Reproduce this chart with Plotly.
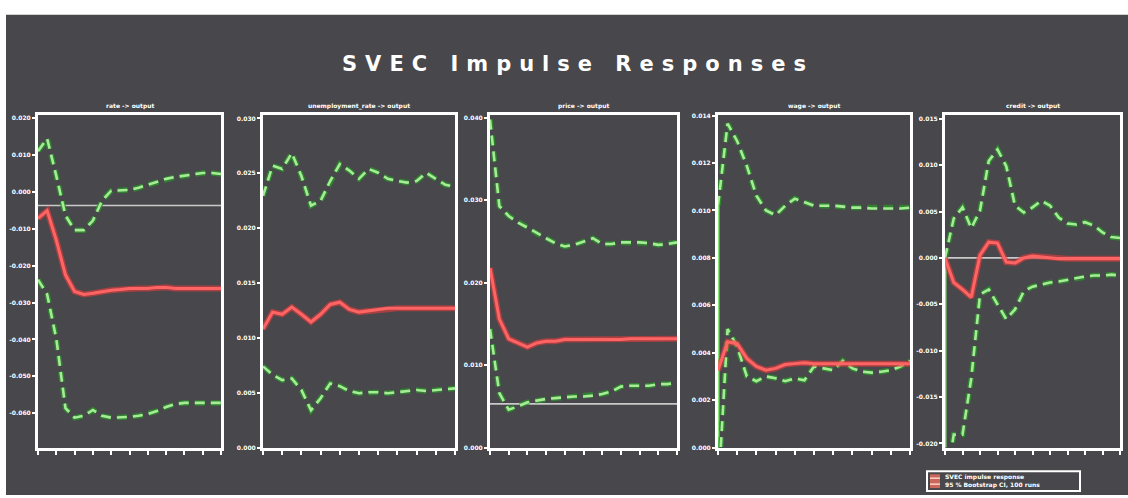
import plotly.graph_objects as go

W, H = 1128, 498
horizon = list(range(21))
x_ticks = list(range(0, 21, 2))

titles = ["rate -> output", "unemployment_rate -> output", "price -> output",
          "wage -> output", "credit -> output"]

# values in tick units (1 unit = one y tick step); label scale per panel below
p1_upper = [1.10, 1.44, 0.43, -0.64, -1.04, -1.04, -0.78, -0.24, 0.03, 0.03, 0.05,
            0.11, 0.19, 0.27, 0.35, 0.40, 0.43, 0.48, 0.51, 0.51, 0.48]
p1_irf = [-0.72, -0.51, -1.31, -2.25, -2.70, -2.78, -2.75, -2.70, -2.67, -2.65, -2.62,
          -2.62, -2.62, -2.59, -2.59, -2.62, -2.62, -2.62, -2.62, -2.62, -2.62]
p1_lower = [-2.38, -2.78, -3.98, -5.86, -6.12, -6.07, -5.91, -6.07, -6.12, -6.12, -6.10,
            -6.07, -6.02, -5.94, -5.83, -5.75, -5.72, -5.72, -5.72, -5.72, -5.72]

p2_upper = [4.59, 5.14, 5.08, 5.37, 4.95, 4.41, 4.50, 4.86, 5.17, 5.05, 4.90,
            5.08, 5.01, 4.90, 4.86, 4.83, 4.86, 5.01, 4.90, 4.79, 4.76]
p2_irf = [2.16, 2.47, 2.43, 2.56, 2.43, 2.29, 2.43, 2.61, 2.65, 2.52, 2.47,
          2.49, 2.52, 2.54, 2.54, 2.54, 2.54, 2.54, 2.54, 2.54, 2.54]
p2_lower = [1.48, 1.33, 1.23, 1.26, 1.05, 0.68, 0.90, 1.17, 1.12, 1.03, 0.99,
            1.01, 1.01, 0.99, 1.01, 1.03, 1.05, 1.03, 1.05, 1.06, 1.08]

p3_upper = [3.98, 2.93, 2.81, 2.73, 2.67, 2.60, 2.54, 2.48, 2.44, 2.46, 2.50,
            2.54, 2.47, 2.47, 2.49, 2.49, 2.49, 2.48, 2.46, 2.47, 2.49]
p3_irf = [2.18, 1.56, 1.32, 1.27, 1.22, 1.27, 1.29, 1.29, 1.31, 1.31, 1.31,
          1.31, 1.31, 1.31, 1.31, 1.32, 1.32, 1.32, 1.32, 1.32, 1.32]
p3_lower = [1.44, 0.66, 0.46, 0.50, 0.55, 0.57, 0.59, 0.60, 0.61, 0.62, 0.62,
            0.63, 0.65, 0.68, 0.74, 0.75, 0.75, 0.75, 0.77, 0.77, 0.79]

p4_upper = [5.10, 6.83, 6.46, 5.94, 5.31, 5.00, 4.90, 5.10, 5.25, 5.17, 5.10,
            5.10, 5.10, 5.08, 5.06, 5.06, 5.04, 5.04, 5.04, 5.04, 5.06]
p4_irf = [1.63, 2.23, 2.19, 1.88, 1.71, 1.63, 1.67, 1.75, 1.77, 1.79, 1.77,
          1.77, 1.77, 1.77, 1.77, 1.77, 1.77, 1.77, 1.77, 1.77, 1.77]
p4_lower = [-1.00, 2.50, 2.13, 1.50, 1.40, 1.50, 1.46, 1.40, 1.46, 1.42, 1.71,
            1.67, 1.63, 1.83, 1.67, 1.60, 1.58, 1.60, 1.63, 1.71, 1.83]

p5_upper = [0.00, 0.85, 1.09, 0.64, 1.02, 2.09, 2.34, 1.98, 1.13, 0.98, 1.09,
            1.23, 1.13, 0.87, 0.74, 0.72, 0.77, 0.70, 0.55, 0.45, 0.43]
p5_irf = [0.00, -0.53, -0.68, -0.85, 0.06, 0.34, 0.32, -0.09, -0.11, 0.00, 0.04,
          0.02, 0.00, -0.02, -0.02, -0.02, -0.02, -0.02, -0.02, -0.02, -0.02]
p5_lower = [-5.00, -3.81, -3.81, -2.60, -0.79, -0.68, -1.00, -1.32, -1.11, -0.72, -0.62,
            -0.57, -0.53, -0.51, -0.47, -0.43, -0.40, -0.38, -0.38, -0.36, -0.38]

uppers = [p1_upper, p2_upper, p3_upper, p4_upper, p5_upper]
irfs = [p1_irf, p2_irf, p3_irf, p4_irf, p5_irf]
lowers = [p1_lower, p2_lower, p3_lower, p4_lower, p5_lower]

y_ranges = [[-6.93, 2.09], [0.0, 6.07], [0.0, 4.04], [0.0, 7.02], [-4.09, 3.09]]
y_tickvals = [list(range(-6, 3)), list(range(0, 7)), list(range(0, 5)),
              list(range(0, 8)), list(range(-4, 4))]
y_label_scale = [0.01, 0.005, 0.01, 0.002, 0.005]
ref_lines = [-0.37, None, 0.53, None, 0.0]
impact_band = [False, False, False, True, True]

legend_labels = ["SVEC impulse response", "95 % Bootstrap CI, 100 runs"]

# layout geometry (pixels)
panel_px = [(38, 221), (263, 455), (490, 677), (718, 910), (945, 1120)]
top_px, bot_px = 113, 450

BG = "#48474b"
RED = "#ff6464"
GREEN = "#a6ec96"
WHITE = "#ffffff"

fig = go.Figure()
layout = {}
for i in range(5):
    xname = "x" if i == 0 else f"x{i+1}"
    yname = "y" if i == 0 else f"y{i+1}"
    if ref_lines[i] is not None:
        fig.add_trace(go.Scatter(x=[horizon[0], horizon[-1]], y=[ref_lines[i], ref_lines[i]],
                                 mode="lines", line=dict(color="#c9c9c9", width=1.6),
                                 xaxis=xname, yaxis=yname, showlegend=False, hoverinfo="skip"))
    if impact_band[i]:
        fig.add_trace(go.Scatter(x=[horizon[0], horizon[0]], y=[uppers[i][0], lowers[i][0]],
                                 mode="lines", line=dict(color="#86e676", width=3),
                                 xaxis=xname, yaxis=yname, showlegend=False, hoverinfo="skip"))
    for series in (uppers[i], lowers[i]):
        fig.add_trace(go.Scatter(x=horizon, y=series, mode="lines",
                                 line=dict(color="rgba(40,150,40,0.75)", width=5.5, dash="10px,6px"),
                                 xaxis=xname, yaxis=yname, showlegend=False, hoverinfo="skip"))
        fig.add_trace(go.Scatter(x=horizon, y=series, mode="lines",
                                 line=dict(color=GREEN, width=2.6, dash="10px,6px"),
                                 xaxis=xname, yaxis=yname, showlegend=False, hoverinfo="skip"))
    fig.add_trace(go.Scatter(x=horizon, y=irfs[i], mode="lines",
                             line=dict(color="rgba(230,60,60,0.6)", width=6),
                             xaxis=xname, yaxis=yname, showlegend=False, hoverinfo="skip"))
    fig.add_trace(go.Scatter(x=horizon, y=irfs[i], mode="lines",
                             line=dict(color=RED, width=3),
                             xaxis=xname, yaxis=yname, showlegend=False, hoverinfo="skip"))

    l, r = panel_px[i]
    xkey = "xaxis" if i == 0 else f"xaxis{i+1}"
    ykey = "yaxis" if i == 0 else f"yaxis{i+1}"
    layout[xkey] = dict(domain=[l / W, r / W], range=[horizon[0], horizon[-1]],
                        anchor=yname, showgrid=False, zeroline=False,
                        showline=True, mirror=True, linecolor=WHITE, linewidth=3,
                        tickvals=x_ticks, ticks="outside", ticklen=4, tickwidth=2,
                        tickcolor=WHITE, showticklabels=False)
    layout[ykey] = dict(domain=[1 - bot_px / H, 1 - top_px / H], range=y_ranges[i],
                        anchor=xname, showgrid=False, zeroline=False,
                        showline=True, mirror=True, linecolor=WHITE, linewidth=3,
                        tickvals=y_tickvals[i],
                        ticktext=[f"{v * y_label_scale[i]:.3f}" for v in y_tickvals[i]],
                        ticks="outside", ticklen=3, tickwidth=1.5, tickcolor=WHITE,
                        tickfont=dict(family="DejaVu Sans", size=6, color=WHITE, weight="bold"))

annotations = []
for i in range(5):
    l, r = panel_px[i]
    annotations.append(dict(text=titles[i], x=(l + r) / 2 / W, y=1 - 104 / H,
                            xref="paper", yref="paper", showarrow=False,
                            xanchor="center", yanchor="middle",
                            font=dict(family="DejaVu Sans", size=6, color=WHITE, weight="bold")))

annotations.append(dict(text="SVEC Impulse Responses", x=578 / W, y=1 - 62 / H,
                        xref="paper", yref="paper", showarrow=False,
                        xanchor="center", yanchor="middle",
                        font=dict(family="DejaVu Sans", size=21, color=WHITE, weight="bold")))

# legend box (bottom right)
lx0, lx1, ly0, ly1 = 927, 1080, 474, 494
shapes = [
    dict(type="rect", xref="paper", yref="paper", x0=6 / W, x1=1, y0=0, y1=1 - 12 / H,
         fillcolor=BG, line=dict(width=0), layer="below"),
    dict(type="rect", xref="paper", yref="paper", x0=lx0 / W, x1=lx1 / W,
         y0=1 - ly1 / H, y1=1 - ly0 / H, line=dict(color=WHITE, width=2), fillcolor=BG),
    dict(type="rect", xref="paper", yref="paper", x0=930 / W, x1=940 / W,
         y0=1 - 491 / H, y1=1 - 477 / H, line=dict(width=0), fillcolor="#c9685a"),
    dict(type="line", xref="paper", yref="paper", x0=930 / W, x1=940 / W,
         y0=1 - 481 / H, y1=1 - 481 / H, line=dict(color="#ffd0c8", width=1.5)),
    dict(type="line", xref="paper", yref="paper", x0=930 / W, x1=940 / W,
         y0=1 - 487 / H, y1=1 - 487 / H, line=dict(color="#ffd0c8", width=1.5)),
]
for k, lab in enumerate(legend_labels):
    annotations.append(dict(text=lab, x=943 / W, y=1 - (480 + 8 * k) / H,
                            xref="paper", yref="paper", showarrow=False,
                            xanchor="left", yanchor="middle",
                            font=dict(family="DejaVu Sans", size=6, color=WHITE, weight="bold")))

fig.update_layout(width=W, height=H, margin=dict(l=0, r=0, t=0, b=0),
                  paper_bgcolor="#ffffff", plot_bgcolor=BG, showlegend=False,
                  annotations=annotations, shapes=shapes, **layout)

post = ("document.body.style.margin='0';document.body.style.padding='0';"
        "document.querySelectorAll('.annotation-text').forEach(function(e){"
        "if(e.textContent==='SVEC Impulse Responses'){e.style.letterSpacing='8px';}});")
fig.write_html("out.html", post_script=post, config={"displayModeBar": False})
